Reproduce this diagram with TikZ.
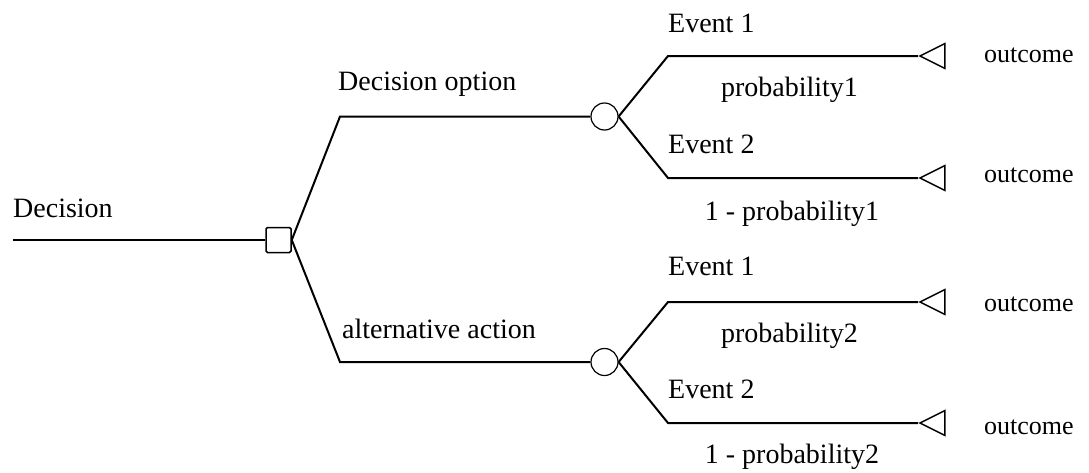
\documentclass[tikz,border=0pt]{standalone}
\usepackage{fontspec}
\setmainfont{Liberation Serif}
\usetikzlibrary{shapes.geometric}
\begin{document}
\begin{tikzpicture}[x=1pt,y=-1pt,
  branch/.style={line width=2pt,line join=miter},
  decbox/.style={draw,line width=1.5pt,rectangle,rounded corners=1.5pt,minimum size=25pt,inner sep=0pt},
  chance/.style={draw,line width=1.2pt,circle,minimum size=27pt,inner sep=0pt},
  endnode/.style={draw,line width=1.5pt,isosceles triangle,isosceles triangle stretches,shape border rotate=180,minimum width=25pt,minimum height=25pt,inner sep=0pt,anchor=apex},
  lbl/.style={inner sep=0pt,anchor=base west,font=\fontsize{28}{34}\selectfont},
  clbl/.style={inner sep=0pt,anchor=base,font=\fontsize{28}{34}\selectfont},
  olbl/.style={inner sep=0pt,anchor=base west,font=\fontsize{26}{32}\selectfont}]
\useasboundingbox (0,0) rectangle (1089,472);
% nodes
\coordinate (start) at (13,240);
\node[decbox] (d) at (278.5,240) {};
\node[chance] (c1) at (604.5,116.5) {};
\node[chance] (c2) at (604.5,362) {};
\coordinate (u) at (340,116.5);
\coordinate (l) at (340,362);
\coordinate (u1) at (668,56);
\coordinate (u2) at (668,178);
\coordinate (l1) at (668,302);
\coordinate (l2) at (668,423);
\node[endnode] (t1) at (918,56) {};
\node[endnode] (t2) at (918,178) {};
\node[endnode] (t3) at (918,302) {};
\node[endnode] (t4) at (918,423) {};
% connectors
\draw[branch] (start) -- (d.west);
\draw[branch] (d.east) -- (u) -- (c1.west);
\draw[branch] (d.east) -- (l) -- (c2.west);
\draw[branch] (c1.east) -- (u1) -- (t1.apex);
\draw[branch] (c1.east) -- (u2) -- (t2.apex);
\draw[branch] (c2.east) -- (l1) -- (t3.apex);
\draw[branch] (c2.east) -- (l2) -- (t4.apex);
% labels
\node[lbl] (ld) at (13,217) {Decision};
\node[lbl] (ldo) at (338,90) {Decision option};
\node[lbl] (laa) at (342,338) {alternative action};
\node[lbl] (le1a) at (668,32) {Event 1};
\node[lbl] (le2a) at (668,153) {Event 2};
\node[lbl] (le1b) at (668,275) {Event 1};
\node[lbl] (le2b) at (668,398) {Event 2};
\node[clbl] (lp1) at (789.5,96) {probability1};
\node[clbl] (lq1) at (792,220) {1 - probability1};
\node[clbl] (lp2) at (789.5,342) {probability2};
\node[clbl] (lq2) at (792,463) {1 - probability2};
\node[olbl] (o1) at (984,62) {outcome};
\node[olbl] (o2) at (984,182) {outcome};
\node[olbl] (o3) at (984,311) {outcome};
\node[olbl] (o4) at (984,434) {outcome};
\end{tikzpicture}
\end{document}
